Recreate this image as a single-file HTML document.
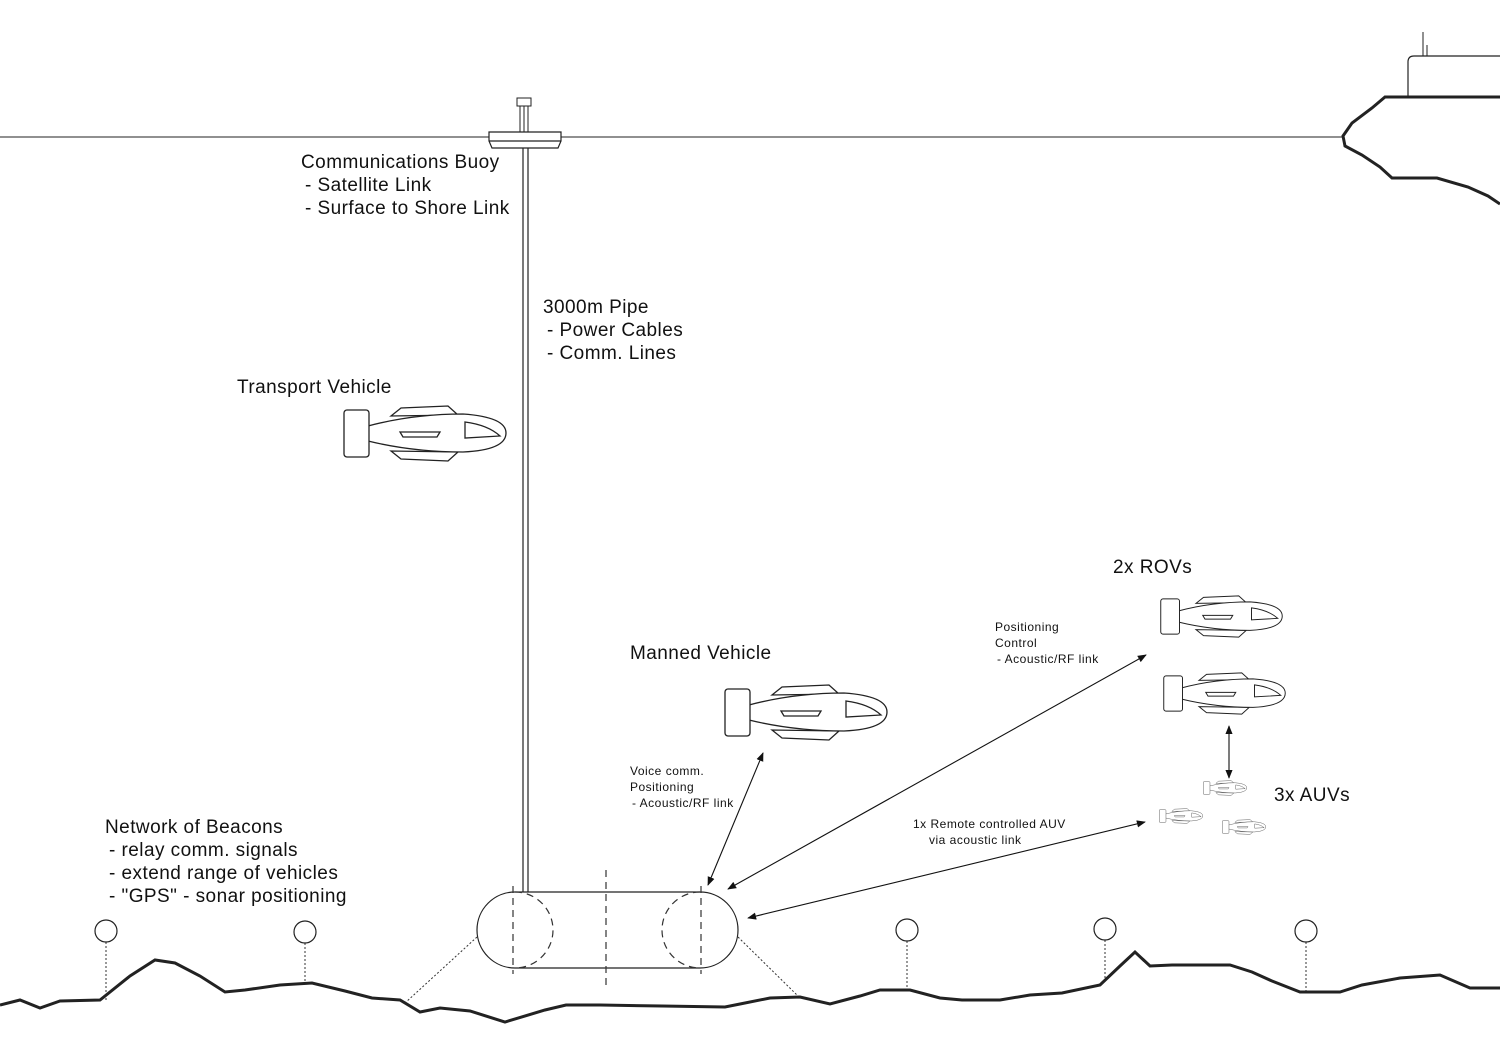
<!DOCTYPE html>
<html><head><meta charset="utf-8"><style>
html,body{margin:0;padding:0;background:#fff}
svg{display:block}
text{font-family:"Liberation Sans",sans-serif;fill:#111}
.b{font-size:19px;letter-spacing:0.45px}
.s{font-size:12px;letter-spacing:0.5px}
</style></head><body>
<svg width="1500" height="1050" viewBox="0 0 1500 1050" xmlns="http://www.w3.org/2000/svg">
<defs>
<symbol id="veh" viewBox="0 0 164 57" overflow="visible">
<g fill="#fff" stroke="#222" stroke-width="1.3">
<path d="M48,11 L58,3 L105,1 L115,10 Z"/>
<path d="M48,46 L58,54 L105,56 L115,47 Z"/>
<path d="M25,21 Q70,9 120,9 Q163,12 163,28 Q163,45 120,47 Q70,47 25,36 Z"/>
<rect x="1" y="5" width="25" height="47" rx="3"/>
<path d="M57,27 L97,27 L94,32 L60,32 Z"/>
<path d="M122,17 L122,33 L157,31 Q145,20 122,17 Z"/>
</g>
</symbol>
<marker id="ah" viewBox="0 0 10 10" refX="9" refY="5" markerWidth="9" markerHeight="9" orient="auto-start-reverse" markerUnits="userSpaceOnUse"><path d="M0,1 L10,5 L0,9 Z" fill="#111"/></marker>
</defs>

<line x1="0" y1="137" x2="1343" y2="137" stroke="#222" stroke-width="1"/>
<path d="M1408,97 L1408,62 Q1408,56 1414,56 L1500,56" fill="none" stroke="#222" stroke-width="1.2"/>
<line x1="1423" y1="32" x2="1423" y2="56" stroke="#222" stroke-width="1"/>
<line x1="1427" y1="45" x2="1427" y2="56" stroke="#222" stroke-width="1"/>
<path d="M1500,97 L1385,97 L1372,108 L1352,123 L1343,136 L1345,146 L1362,155 L1380,167 L1392,178 L1437,178 L1468,187 L1488,196 L1500,204" fill="none" stroke="#222" stroke-width="3"/>

<rect x="517" y="98" width="14" height="8" fill="#fff" stroke="#222"/>
<line x1="520" y1="106" x2="520" y2="132" stroke="#222"/>
<line x1="524" y1="106" x2="524" y2="132" stroke="#222"/>
<line x1="528" y1="106" x2="528" y2="132" stroke="#222"/>
<path d="M489,132 L561,132 L561,141 L558,148 L492,148 L489,141 Z M489,141 L561,141" fill="#fff" stroke="#222" stroke-width="1.2"/>
<line x1="523" y1="148" x2="523" y2="892" stroke="#222" stroke-width="1.2"/>
<line x1="528" y1="148" x2="528" y2="892" stroke="#222" stroke-width="1.2"/>

<path d="M515,892 L700,892 A38,38 0 0 1 700,968 L515,968 A38,38 0 0 1 515,892 Z" fill="none" stroke="#222" stroke-width="1.2"/>
<g fill="none" stroke="#333" stroke-width="1.2" stroke-dasharray="7,5">
<path d="M515,892 A38,38 0 0 1 515,968"/>
<path d="M700,892 A38,38 0 0 0 700,968"/>
<line x1="513" y1="886" x2="513" y2="974"/>
<line x1="701" y1="886" x2="701" y2="974"/>
<line x1="606" y1="870" x2="606" y2="990"/>
</g>
<g stroke="#333" stroke-width="1" stroke-dasharray="2,2">
<line x1="477" y1="937" x2="405" y2="1003"/>
<line x1="738" y1="937" x2="800" y2="998"/>
<line x1="106" y1="942" x2="106" y2="1000"/>
<line x1="305" y1="943" x2="305" y2="984"/>
<line x1="907" y1="941" x2="907" y2="990"/>
<line x1="1105" y1="940" x2="1105" y2="982"/>
<line x1="1306" y1="942" x2="1306" y2="992"/>
</g>
<g fill="#fff" stroke="#222" stroke-width="1.2">
<circle cx="106" cy="931" r="11"/>
<circle cx="305" cy="932" r="11"/>
<circle cx="907" cy="930" r="11"/>
<circle cx="1105" cy="929" r="11"/>
<circle cx="1306" cy="931" r="11"/>
</g>

<path d="M0,1005 L20,1000 L40,1008 L60,1001 L100,1000 L130,976 L155,960 L175,963 L200,976 L225,992 L245,990 L280,985 L312,983 L345,991 L372,998 L400,1000 L420,1012 L440,1008 L470,1011 L505,1022 L545,1010 L566,1005 L600,1005 L662,1006 L725,1007 L740,1004 L770,998 L800,997 L830,1004 L860,996 L880,990 L910,990 L940,998 L962,1000 L1000,1000 L1030,995 L1062,993 L1100,985 L1120,966 L1135,952 L1150,966 L1172,965 L1230,965 L1252,972 L1272,981 L1300,992 L1340,992 L1362,985 L1400,978 L1440,975 L1470,988 L1500,988" fill="none" stroke="#222" stroke-width="3"/>

<use href="#veh" x="343" y="405" width="164" height="57"/>
<use href="#veh" x="724" y="684" width="164" height="57"/>
<use href="#veh" x="1160" y="595" width="123" height="43"/>
<use href="#veh" x="1163" y="672" width="123" height="43"/>
<use href="#veh" x="1203" y="780" width="44" height="16"/>
<use href="#veh" x="1159" y="808" width="44" height="16"/>
<use href="#veh" x="1222" y="819" width="44" height="16"/>

<g stroke="#111" stroke-width="1.1" marker-start="url(#ah)" marker-end="url(#ah)">
<line x1="708" y1="885" x2="763" y2="753"/>
<line x1="728" y1="889" x2="1146" y2="655"/>
<line x1="748" y1="918" x2="1145" y2="822"/>
<line x1="1229" y1="726" x2="1229" y2="778"/>
</g>

<text class="b" x="301" y="168">Communications Buoy</text>
<text class="b" x="305" y="191">- Satellite Link</text>
<text class="b" x="305" y="214">- Surface to Shore Link</text>
<text class="b" x="543" y="313">3000m Pipe</text>
<text class="b" x="547" y="336">- Power Cables</text>
<text class="b" x="547" y="359">- Comm. Lines</text>
<text class="b" x="237" y="393">Transport Vehicle</text>
<text class="b" x="1113" y="573">2x ROVs</text>
<text class="b" x="630" y="659">Manned Vehicle</text>
<text class="b" x="1274" y="801">3x AUVs</text>
<text class="b" x="105" y="833">Network of Beacons</text>
<text class="b" x="109" y="856">- relay comm. signals</text>
<text class="b" x="109" y="879">- extend range of vehicles</text>
<text class="b" x="109" y="902">- "GPS" - sonar positioning</text>
<text class="s" x="995" y="631">Positioning</text>
<text class="s" x="995" y="647">Control</text>
<text class="s" x="997" y="663">- Acoustic/RF link</text>
<text class="s" x="630" y="775">Voice comm.</text>
<text class="s" x="630" y="791">Positioning</text>
<text class="s" x="632" y="807">- Acoustic/RF link</text>
<text class="s" x="913" y="828">1x Remote controlled AUV</text>
<text class="s" x="929" y="844">via acoustic link</text>
</svg>
</body></html>
